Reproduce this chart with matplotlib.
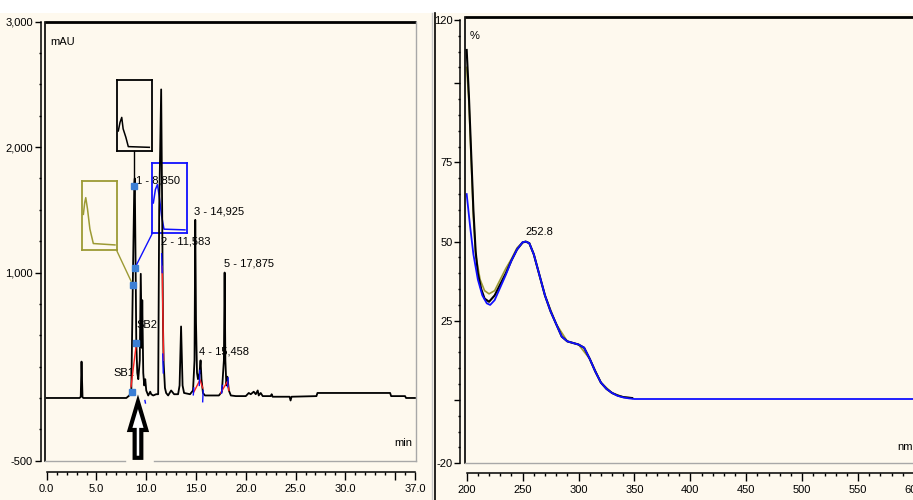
import matplotlib
matplotlib.use("Agg")
import matplotlib.pyplot as plt
from matplotlib.ticker import FixedLocator, FixedFormatter, MultipleLocator
from matplotlib.patches import FancyArrow, Rectangle
from matplotlib.lines import Line2D

plt.rcParams['font.family'] = ['Liberation Sans Narrow', 'Liberation Sans', 'DejaVu Sans']
plt.rcParams['font.size'] = 8

BG = '#FEF9EE'
OLIVE = '#9C9A34'
BLUE = '#1010FF'
MARK = '#3C7FD4'

# --- chromatogram (time in min, signal in mAU)
time_min = [0.0, 3.3, 3.42, 3.5, 3.6, 3.7, 8.0, 8.3, 8.5, 8.65, 8.8, 8.85, 8.95, 9.0,
            9.1, 9.2, 9.35, 9.45, 9.55, 9.6, 9.7, 9.8, 9.9, 10.0, 10.2, 10.4, 10.5,
            10.7, 11.0, 11.2, 11.3, 11.5, 11.6, 11.68, 11.75, 11.88, 12.0, 12.2,
            12.5, 12.8, 13.2, 13.35, 13.5, 13.65, 13.8, 14.4, 14.7, 14.85, 14.925,
            15.0, 15.1, 15.2, 15.35, 15.458, 15.55, 15.7, 15.9, 16.5, 17.3, 17.6,
            17.8, 17.875, 17.95, 18.05, 18.15, 18.3, 18.5, 19.0, 20.0, 20.3, 20.5,
            20.8, 21.0, 21.2, 21.3, 21.5, 21.7, 22.5, 22.6, 22.7, 24.4, 24.5, 24.6,
            27.1, 27.2, 34.5, 34.6, 36.0, 36.1, 37.0]
signal_mau = [0, 0, 10, 290, 5, 0, 0, 20, 50, 900, 1700, 1750, 900, 440,
              200, 150, 300, 990, 400, 780, 200, 100, 150, 60, 20, 50, 30,
              20, 30, 30, 1500, 2460, 1500, 600, 280, 80, 40, 20,
              60, 30, 30, 100, 570, 100, 40, 30, 60, 300, 1420,
              600, 200, 150, 200, 300, 150, 40, 20, 20, 20, 50,
              300, 1000, 300, 100, 170, 60, 20, 15, 15, 40, 30,
              50, 30, 60, 20, 40, 15, 15, 30, 10, 10, -20, 10,
              15, 40, 40, 15, 15, 0, 0]

label_text = ['SB1', 'SB2', '1 - 8,850', '2 - 11,583', '3 - 14,925', '4 - 15,458', '5 - 17,875']
label_t = [6.76, 9.05, 8.95, 11.45, 14.8, 15.33, 17.81]
label_v = [200, 585, 1730, 1250, 1490, 370, 1075]

marker_t = [8.54, 8.97, 8.64, 8.87, 8.80]
marker_v = [50, 438, 904, 1038, 1690]

# integration lines
red_t = [[8.47, 8.97], [11.6, 11.74], [14.8, 15.4, 15.67], [17.48, 18.14, 18.3]]
red_v = [[90, 410], [1050, 300], [50, 145, 80], [40, 130, 60]]
blue_tick_t = [8.85, 9.87, 11.55, 11.66, 14.73, 15.33, 15.67, 17.58, 18.18]
blue_tick_v0 = [-15, -20, 1150, 350, 25, 100, -30, 40, 90]
blue_tick_v1 = [-15, -40, 1000, 200, 80, 220, 60, 100, 160]

# spectrum boxes on the chromatogram (time range, mAU range)
box_t0 = [3.58, 7.09, 10.61]
box_t1 = [7.03, 10.55, 14.06]
box_v0 = [1176, 1970, 1312]
box_v1 = [1730, 2538, 1877]
box_marker = [2, 4, 3]
# small spectra drawn inside the boxes (fraction of box width / height)
olive_box_x = [0.03, 0.07, 0.10, 0.15, 0.22, 0.32, 0.95]
olive_box_y = [0.52, 0.69, 0.76, 0.60, 0.31, 0.10, 0.08]
black_box_x = [0.03, 0.08, 0.13, 0.17, 0.25, 0.32, 0.93]
black_box_y = [0.28, 0.40, 0.47, 0.31, 0.19, 0.06, 0.05]
blue_box_x = [0.03, 0.09, 0.15, 0.20, 0.27, 0.34, 0.95]
blue_box_y = [0.43, 0.62, 0.69, 0.53, 0.25, 0.06, 0.05]

arrow_t = 9.17

# --- UV spectra (nm, %)
wl_black = [200, 202, 204, 206, 208, 210, 213, 216, 220, 225, 230, 235, 240, 245, 250,
            252.8, 256, 260, 265, 270, 275, 280, 285, 290, 295, 300, 305, 310, 315,
            320, 325, 330, 335, 340, 348]
pct_black = [110.5, 96, 78, 60, 47, 40, 35, 32, 31, 33, 36.5, 40, 44, 47.5, 49.7,
             50, 49.5, 46, 39.5, 33, 28, 24, 20, 18.5, 18, 17.5, 16.5, 13, 9,
             5.5, 3.5, 2.2, 1.4, 0.9, 0.6]
wl_olive = [200, 202, 204, 206, 208, 212, 216, 220, 225, 230, 235, 240, 245, 250, 252.8, 256,
            260, 265, 270, 280, 290, 300, 310, 320, 330, 340, 348]
pct_olive = [105, 94, 76, 58, 46, 38, 34.5, 33.5, 34.5, 38, 41.5, 44.5, 48, 49.8, 50, 49.5,
             46, 39.5, 33, 24, 18.5, 17.5, 13, 5.5, 2.2, 0.9, 0.6]
wl_blue = [200, 203, 206, 210, 214, 218, 221, 225, 230, 235, 240, 245, 250, 252.8,
           256, 260, 265, 270, 275, 280, 285, 290, 295, 300, 305, 310, 315, 320,
           325, 330, 335, 340, 345, 350, 600]
pct_blue = [65, 55, 46, 38, 33, 30.5, 30, 31.5, 35.5, 39.5, 44, 47.5, 49.8, 50,
            49.5, 46, 39.5, 33, 28, 24, 20, 18.5, 18, 17.5, 16.5, 13, 9, 5.5,
            3.5, 2.2, 1.3, 0.8, 0.5, 0.3, 0.3]
peak_nm = 252.8

W, H = 913, 500
fig = plt.figure(figsize=(W / 100, H / 100), dpi=100, facecolor=BG)


def px_axes(x0, x1, ytop, ybot):
    return fig.add_axes([x0 / W, (H - ybot) / H, (x1 - x0) / W, (ybot - ytop) / H])


def frame(ax, gap=None):
    kw = dict(transform=ax.transAxes, clip_on=False, zorder=6)
    ax.plot([0, 1], [1, 1], color='black', lw=2, solid_capstyle='butt', **kw)
    ax.plot([0, 0], [0, 1], color='black', lw=1.2, **kw)
    ax.plot([1, 1], [0, 1], color='#A8A8A8', lw=1, **kw)
    if gap is None:
        ax.plot([0, 1], [0, 0], color='#A8A8A8', lw=1, **kw)
    else:
        ax.plot([0, gap[0]], [0, 0], color='#A8A8A8', lw=1, **kw)
        ax.plot([gap[1], 1], [0, 0], color='#A8A8A8', lw=1, **kw)


def style_axes(ax, left_out, bottom_out):
    ax.set_facecolor(BG)
    for s in ['top', 'right']:
        ax.spines[s].set_visible(False)
    ax.spines['left'].set_position(('outward', left_out))
    ax.spines['bottom'].set_position(('outward', bottom_out))
    for s in ['left', 'bottom']:
        ax.spines[s].set_linewidth(1.1)
    ax.tick_params(axis='y', which='major', length=4, width=1, pad=1.5)
    ax.tick_params(axis='y', which='minor', length=1.6, width=1)
    ax.tick_params(axis='x', which='major', length=5.8, width=1, pad=3)
    ax.tick_params(axis='x', which='minor', length=2.2, width=1)


# ---------------- left: chromatogram
ax = px_axes(45, 415.7, 21.7, 460.7)
style_axes(ax, 3.1, 7.9)
ax.set_xlim(-0.17, 37.07)
ax.set_ylim(-500, 3000)
ax.spines['left'].set_bounds(-500, 3000)
ax.spines['bottom'].set_bounds(0, 37)
ax.yaxis.set_major_locator(FixedLocator([-500, 1000, 2000, 3000]))
ax.yaxis.set_major_formatter(FixedFormatter(['-500', '1,000', '2,000', '3,000']))
ax.yaxis.set_minor_locator(MultipleLocator(250))
xt = [0, 5, 10, 15, 20, 25, 30, 35, 37]
ax.xaxis.set_major_locator(FixedLocator(xt))
ax.xaxis.set_major_formatter(FixedFormatter(['0.0', '5.0', '10.0', '15.0', '20.0', '25.0', '30.0', '', '37.0']))
ax.xaxis.set_minor_locator(MultipleLocator(1))
frame(ax, gap=((125 - 45) / 370.7, (154 - 45) / 370.7))

ax.plot(time_min, signal_mau, color='black', lw=1.3, zorder=2)
for tt, vv in zip(red_t, red_v):
    ax.plot(tt, vv, color='#FF2020', lw=1, zorder=2.5)
for tt, a, b in zip(blue_tick_t, blue_tick_v0, blue_tick_v1):
    ax.plot([tt, tt + 0.05], [a, b], color=BLUE, lw=1, zorder=2.5)

for txt, tt, vv in zip(label_text, label_t, label_v):
    ax.text(tt, vv, txt, ha='left', va='center', zorder=1.7)

ax.text(0.0135, 0.954, 'mAU', transform=ax.transAxes, ha='left', va='center')
ax.text(0.99, 0.04, 'min', transform=ax.transAxes, ha='right', va='center')

boxes = [(olive_box_x, olive_box_y, OLIVE), (black_box_x, black_box_y, 'black'),
         (blue_box_x, blue_box_y, BLUE)]
for i, (bx, by, col) in enumerate(boxes):
    ins = ax.inset_axes([box_t0[i], box_v0[i], box_t1[i] - box_t0[i], box_v1[i] - box_v0[i]],
                        transform=ax.transData, zorder=1.5)
    ins.set_facecolor(BG)
    ins.patch.set_alpha(0.0 if i == 2 else 1.0)
    ins.set_xticks([])
    ins.set_yticks([])
    for s in ins.spines.values():
        s.set_color(col)
        s.set_linewidth(1.3)
    ins.plot(bx, by, color=col, lw=1.1)
    ins.set_xlim(0, 1)
    ins.set_ylim(0, 1)
    m = box_marker[i]
    if i == 0:
        cx, cy = box_t1[i], box_v0[i]
    elif i == 1:
        cx, cy = marker_t[m], box_v0[i]
    else:
        cx, cy = box_t0[i], box_v0[i]
    ax.plot([cx, marker_t[m]], [cy, marker_v[m]], color=col, lw=1, zorder=3)

ax.plot(marker_t, marker_v, ls='none', marker='s', ms=5, color=MARK, zorder=4)

ax.add_patch(FancyArrow(arrow_t, -477, 0, 447, width=0.67, head_width=1.68,
                        head_length=225, length_includes_head=True,
                        fc='white', ec='black', lw=3, zorder=5, clip_on=False))

# ---------------- right: spectrum
ax2 = px_axes(465, 914, 16.7, 463.3)
style_axes(ax2, 3.6, 6.8)
ax2.set_xlim(198.5, 600)
ax2.set_ylim(-20, 121)
ax2.spines['left'].set_bounds(-20, 120)
ax2.spines['bottom'].set_bounds(200, 600)
ax2.yaxis.set_major_locator(FixedLocator([-20, 0, 25, 50, 75, 100, 120]))
ax2.yaxis.set_major_formatter(FixedFormatter(['-20', '', '25', '50', '75', '', '120']))
ax2.yaxis.set_minor_locator(MultipleLocator(5))
ax2.xaxis.set_major_locator(MultipleLocator(50))
ax2.xaxis.set_minor_locator(MultipleLocator(10))
frame(ax2)

ax2.plot(wl_olive, pct_olive, color=OLIVE, lw=1.2)
ax2.plot(wl_black, pct_black, color='black', lw=1.5)
ax2.plot(wl_blue, pct_blue, color=BLUE, lw=1.3)
ax2.text(peak_nm - 0.6, 51.5, '252.8', ha='left', va='bottom')
ax2.text(0.011, 0.957, '%', transform=ax2.transAxes, ha='left', va='center')
ax2.text(0.962, 0.037, 'nm', transform=ax2.transAxes, ha='left', va='center')

# window decorations
fig.patches.append(Rectangle((0, 1 - 13 / H), 1, 13 / H, transform=fig.transFigure,
                             facecolor='white', edgecolor='none', zorder=0))
fig.add_artist(Line2D([431.7 / W] * 2, [0, 1 - 13 / H], color='#C8C8C8', lw=1))
fig.add_artist(Line2D([435 / W] * 2, [0, 1 - 13 / H], color='black', lw=1.2))

fig.savefig('out.png', dpi=100, facecolor=BG)
